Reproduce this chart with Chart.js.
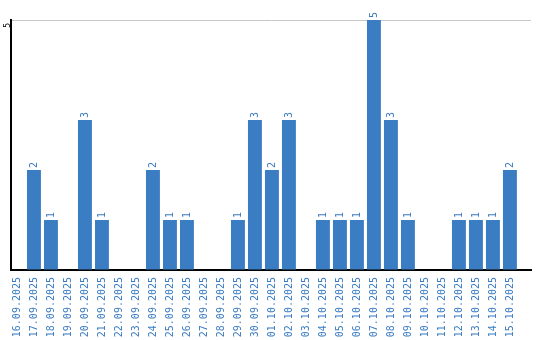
<!DOCTYPE html>
<html>
<head>
<meta charset="utf-8">
<script src="https://cdn.jsdelivr.net/npm/chart.js@4.4.1/dist/chart.umd.min.js"></script>
<style>
  html, body { margin: 0; padding: 0; background: #fff; }
  #wrap { width: 540px; height: 340px; }
</style>
</head>
<body>
<div id="wrap"><canvas id="chart"></canvas></div>
<script>
// data
const days = [
  '16.09.2025', '17.09.2025', '18.09.2025', '19.09.2025', '20.09.2025',
  '21.09.2025', '22.09.2025', '23.09.2025', '24.09.2025', '25.09.2025',
  '26.09.2025', '27.09.2025', '28.09.2025', '29.09.2025', '30.09.2025',
  '01.10.2025', '02.10.2025', '03.10.2025', '04.10.2025', '05.10.2025',
  '06.10.2025', '07.10.2025', '08.10.2025', '09.10.2025', '10.10.2025',
  '11.10.2025', '12.10.2025', '13.10.2025', '14.10.2025', '15.10.2025'
];
const counts = [0, 2, 1, 0, 3, 1, 0, 0, 2, 1, 1, 0, 0, 1, 3, 2, 3, 0, 1, 1, 1, 5, 3, 1, 0, 0, 1, 1, 1, 2];
const yMax = 5;

const barColor = '#3b7dc3';
const textColor = '#3a7bc2';
const monoFont = { family: '"DejaVu Sans Mono", monospace', size: 10 };

// value labels written vertically above each bar
const barValues = {
  id: 'barValues',
  afterDatasetsDraw(chart) {
    const ctx = chart.ctx;
    const meta = chart.getDatasetMeta(0);
    ctx.save();
    ctx.fillStyle = textColor;
    ctx.font = '10px "DejaVu Sans Mono", monospace';
    ctx.textAlign = 'left';
    ctx.textBaseline = 'middle';
    meta.data.forEach((bar, i) => {
      const v = counts[i];
      if (!v) return;
      ctx.save();
      ctx.translate(bar.x, bar.y - 2);
      ctx.rotate(-Math.PI / 2);
      ctx.fillText(String(v), 0, 0);
      ctx.restore();
    });
    ctx.restore();
  }
};

new Chart(document.getElementById('chart'), {
  type: 'bar',
  data: {
    datasets: [{
      data: counts.map((v, i) => ({ x: i, y: v })),
      backgroundColor: barColor,
      borderWidth: 0,
      barPercentage: 0.82,
      categoryPercentage: 1
    }]
  },
  options: {
    responsive: true,
    maintainAspectRatio: false,
    animation: false,
    layout: { padding: { top: 20, right: 9, bottom: 0, left: 0 } },
    plugins: { legend: { display: false }, tooltip: { enabled: false } },
    scales: {
      x: {
        // the axis runs on a bit past the last bar, like the original
        type: 'linear',
        min: -0.35,
        max: 30.24,
        offset: false,
        grid: { display: false, drawTicks: false },
        border: { color: '#000', width: 2 },
        afterFit: (s) => { s.height = 70; },
        afterBuildTicks: (s) => { s.ticks = days.map((d, i) => ({ value: i })); },
        ticks: {
          color: textColor,
          font: monoFont,
          autoSkip: false,
          minRotation: 90,
          maxRotation: 90,
          padding: 7,
          callback: (v) => days[v]
        }
      },
      y: {
        min: 0,
        max: yMax,
        border: { color: '#000', width: 2 },
        afterFit: (s) => { s.width = 11; },
        grid: {
          drawTicks: false,
          color: (c) => c.tick && c.tick.value === yMax ? '#c8c8c8' : 'rgba(0,0,0,0)'
        },
        ticks: {
          stepSize: yMax,
          color: '#000',
          font: { family: '"DejaVu Sans Mono", monospace', size: 8 },
          minRotation: 90,
          maxRotation: 90,
          padding: 3,
          labelOffset: 3,
          callback: (v) => v === yMax ? String(v) : ''
        }
      }
    }
  },
  plugins: [barValues]
});
</script>
</body>
</html>
